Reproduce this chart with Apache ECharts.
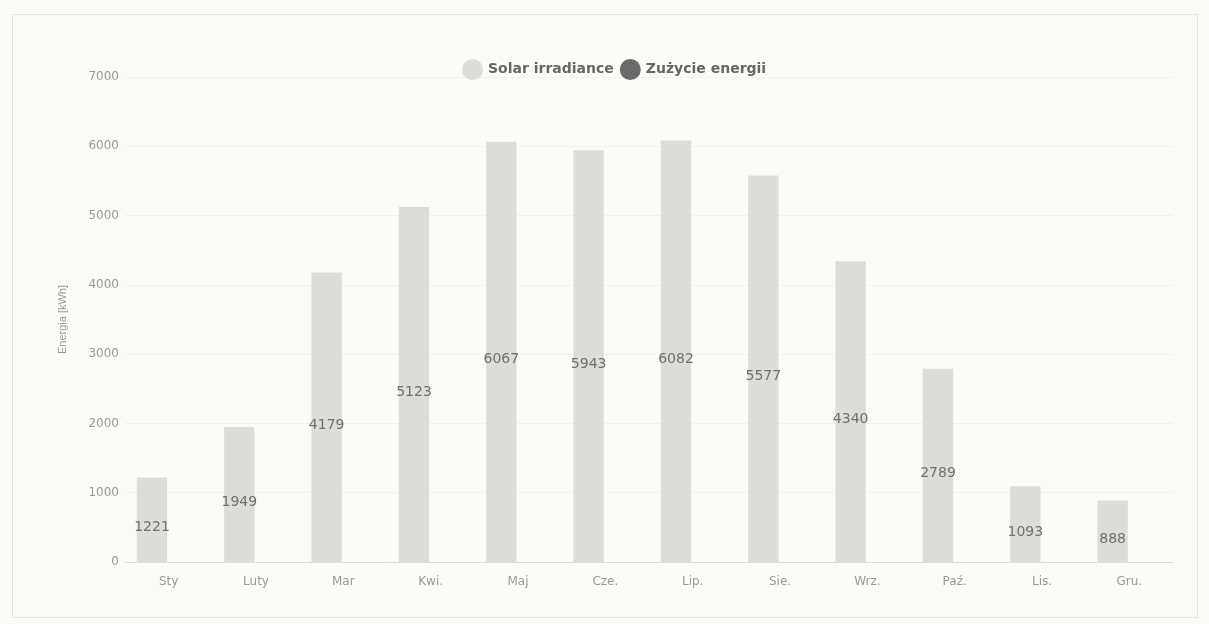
<!DOCTYPE html>
<html>
<head>
<meta charset="utf-8">
<script src="https://cdn.jsdelivr.net/npm/echarts@6/dist/echarts.min.js"></script>
<style>
html,body{margin:0;padding:0;background:#fcfcf6;}
#frame{position:absolute;left:12px;top:14px;width:1186px;height:604px;border:1px solid #e6e6de;box-sizing:border-box;}
#chart{position:absolute;left:0;top:0;width:1209px;height:624px;}
</style>
</head>
<body>
<div id="frame"></div>
<div id="chart"></div>
<script>
var categories = ['Sty', 'Luty', 'Mar', 'Kwi.', 'Maj', 'Cze.', 'Lip.', 'Sie.', 'Wrz.', 'Paź.', 'Lis.', 'Gru.'];
var solarIrradiance = [1221, 1949, 4179, 5123, 6067, 5943, 6082, 5577, 4340, 2789, 1093, 888];
var zuzycieEnergii = [null, null, null, null, null, null, null, null, null, null, null, null];
var yTicks = [0, 1000, 2000, 3000, 4000, 5000, 6000, 7000];

var chart = echarts.init(document.getElementById('chart'), null, {renderer: 'canvas'});
chart.setOption({
  backgroundColor: 'transparent',
  animation: false,
  legend: {
    top: 54,
    left: 457,
    icon: 'circle',
    itemWidth: 21,
    itemHeight: 21,
    itemGap: 6,
    textStyle: {color: '#666', fontSize: 14, fontWeight: 'bold', fontFamily: 'DejaVu Sans, sans-serif'},
    data: ['Solar irradiance', 'Zużycie energii']
  },
  grid: {left: 125, right: 36, top: 77, bottom: 62, containLabel: false},
  xAxis: {
    type: 'category',
    data: categories,
    axisLine: {lineStyle: {color: '#ddd'}},
    axisTick: {show: false},
    axisLabel: {color: '#999', fontSize: 12, margin: 14, fontFamily: 'DejaVu Sans, sans-serif'}
  },
  yAxis: {
    type: 'value',
    min: yTicks[0],
    max: yTicks[yTicks.length - 1],
    interval: 1000,
    name: 'Energia [kWh]',
    nameLocation: 'middle',
    nameGap: 57,
    nameTextStyle: {color: '#999', fontSize: 11, fontFamily: 'Liberation Sans, Arial, sans-serif'},
    axisLine: {show: false},
    axisTick: {show: false},
    axisLabel: {color: '#999', fontSize: 12, margin: 6, fontFamily: 'DejaVu Sans, sans-serif', formatter: function (v) { return String(v); }},
    splitLine: {lineStyle: {color: '#f2f2ec'}}
  },
  series: [
    {
      name: 'Solar irradiance',
      type: 'bar',
      data: solarIrradiance,
      itemStyle: {color: '#dcddd6'},
      label: {show: true, position: 'inside', color: '#707070', fontSize: 14, fontFamily: 'DejaVu Sans, sans-serif', offset: [0, 8]}
    },
    {
      name: 'Zużycie energii',
      type: 'bar',
      data: zuzycieEnergii,
      itemStyle: {color: '#6a6a6a'}
    }
  ]
});
</script>
</body>
</html>
